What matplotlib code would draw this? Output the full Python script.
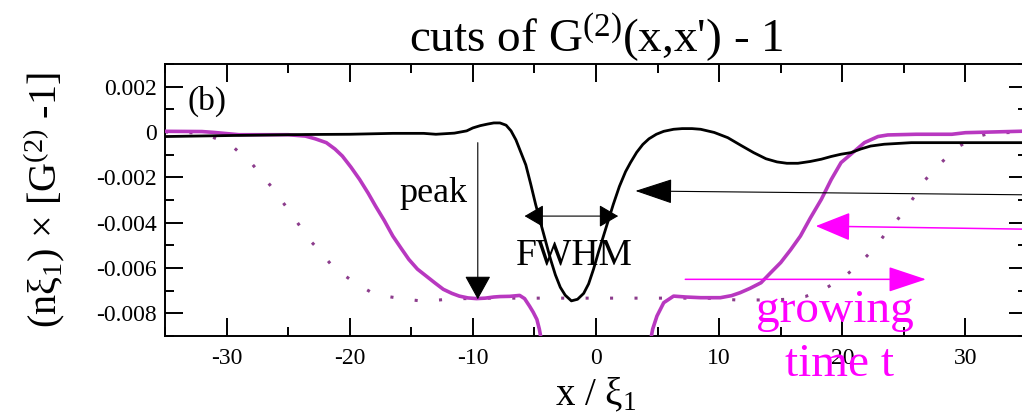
import numpy as np
import matplotlib
matplotlib.use("Agg")
import matplotlib.pyplot as plt
from matplotlib.ticker import MultipleLocator, FixedLocator, FixedFormatter

plt.rcParams['font.family'] = ['Liberation Serif', 'DejaVu Serif']
plt.rcParams['mathtext.fontset'] = 'custom'
plt.rcParams['mathtext.rm'] = 'Liberation Serif'
plt.rcParams['mathtext.it'] = 'Liberation Serif:italic'
plt.rcParams['mathtext.bf'] = 'Liberation Serif:bold'
plt.rcParams['axes.unicode_minus'] = False

# black cut (units of 1e-3)
x_black = [-35, -29, -23.6, -20, -16.5, -14, -13, -11.5, -10.5, -10, -9.4, -8.8,
           -8.3, -7.8, -7.3, -6.9, -6.5, -6.1, -5.7, -5.3, -4.9, -4.5, -4.1, -3.7,
           -3.3, -2.9, -2.5, -2.0, -1.5, -1.0, -0.6, -0.2, 0.2, 0.6, 1.0, 1.4, 1.9,
           2.4, 2.8, 3.3, 3.8, 4.3, 4.9, 5.5, 6.3, 7.0, 7.8, 8.5, 9.6, 10.7, 11.8,
           12.8, 13.8, 14.7, 15.5, 16.4, 17.4, 18.3, 19.1, 19.9, 20.7, 21.5, 22.3,
           23.4, 25.6, 28.9, 35]
y_black = [-0.20, -0.15, -0.11, -0.10, -0.06, -0.06, -0.10, -0.05, 0.05, 0.18,
           0.28, 0.35, 0.40, 0.40, 0.30, 0.05, -0.35, -0.90, -1.45, -2.30, -3.20,
           -4.00, -4.80, -5.60, -6.30, -6.85, -7.20, -7.45, -7.38, -7.12, -6.70,
           -6.05, -5.30, -4.60, -3.90, -3.20, -2.40, -1.75, -1.35, -0.90, -0.55,
           -0.30, -0.10, 0.03, 0.12, 0.15, 0.15, 0.12, -0.02, -0.25, -0.60, -0.91,
           -1.18, -1.32, -1.38, -1.38, -1.30, -1.20, -1.08, -0.98, -0.91, -0.75,
           -0.62, -0.54, -0.47, -0.47, -0.47]

# magenta cut, solid
x_mag = [-35, -32, -31, -29, -25, -23.6, -22.8, -21.9, -21.2, -20.6, -19.9, -19.2,
         -18.5, -17.9, -17.2, -16.5, -15.8, -15.2, -14.5, -13.8, -13.1, -12.4,
         -11.7, -11.1, -10.4, -9.7, -9.0, -8.3, -7.8, -7.0, -6.2, -5.8, -5.4, -5.1,
         -4.8, -4.6, -4.4,
         4.4, 4.6, 4.95, 5.5, 6.3, 7.3, 8.5, 10.1, 11.0, 11.7, 12.5, 13.4, 14.2,
         15.0, 15.8, 16.6, 17.4, 18.3, 19.1, 19.9, 20.7, 21.8, 22.9, 23.7, 26,
         28.9, 30, 35]
y_mag = [0.03, 0.02, -0.02, -0.12, -0.12, -0.18, -0.30, -0.47, -0.75, -1.06,
         -1.55, -2.09, -2.70, -3.27, -3.90, -4.59, -5.15, -5.62, -6.05, -6.35,
         -6.65, -6.94, -7.12, -7.24, -7.32, -7.35, -7.33, -7.28, -7.26, -7.25,
         -7.21, -7.35, -7.68, -7.95, -8.27, -8.70, -9.30,
         -9.30, -8.70, -8.12, -7.53, -7.24, -7.28, -7.31, -7.31, -7.22, -7.09,
         -6.90, -6.65, -6.20, -5.76, -5.20, -4.59, -3.80, -2.97, -2.10, -1.35,
         -0.98, -0.47, -0.20, -0.13, -0.10, -0.10, -0.03, 0.04]

# magenta cut, dotted (earlier time)
x_dot = [-35, -32, -30.8, -29.4, -27.9, -26.3, -25.2, -24.8, -23.3, -22.8, -21.3,
         -19.8, -18.3, -16.9, -15.4, -14.1, -12.7, -11.5, -10, -9,
         9, 11.4, 12.8, 14.2, 15.5, 17.0, 18.5, 19.9, 21.2, 22.3, 23.0, 23.6,
         24.4, 24.9, 25.5, 26.1, 26.6, 27.9, 28.1, 29.3, 30.7, 32, 35]
y_dot = [0.0, -0.05, -0.30, -0.69, -1.43, -2.45, -3.27, -3.56, -4.74, -5.03,
         -5.98, -6.57, -7.06, -7.26, -7.38, -7.46, -7.41, -7.35, -7.35, -7.33,
         -7.33, -7.41, -7.41, -7.41, -7.38, -7.26, -6.94, -6.50, -5.91, -5.30,
         -4.85, -4.41, -3.93, -3.56, -3.12, -2.65, -2.19, -1.43, -1.32, -0.69,
         -0.25, -0.05, 0.0]

xticks = [-30, -20, -10, 0, 10, 20, 30]
xtick_labels = ['-30', '-20', '-10', '0', '10', '20', '30']
yticks = [-0.008, -0.006, -0.004, -0.002, 0, 0.002]
ytick_labels = ['-0.008', '-0.006', '-0.004', '-0.002', '0', '0.002']

fig = plt.figure(figsize=(10.22, 4.16), dpi=100)
# axes runs a little past the right edge of the canvas
ax = fig.add_axes([165/1022, 80/416, 862/1022, 272/416])

magenta = '#b838c0'
ax.plot(x_dot, np.array(y_dot)*1e-3, color='#8c3c8c', lw=2.2,
        linestyle=(0, (1, 7)), zorder=2)
ax.plot(x_mag, np.array(y_mag)*1e-3, color=magenta, lw=2.6, zorder=3)
ax.plot(x_black, np.array(y_black)*1e-3, color='black', lw=2.0, zorder=4)

ax.set_xlim(-35, 35)
ax.set_ylim(-0.009, 0.003)
ax.xaxis.set_major_locator(FixedLocator(xticks))
ax.xaxis.set_major_formatter(FixedFormatter(xtick_labels))
ax.xaxis.set_minor_locator(MultipleLocator(5))
ax.yaxis.set_major_locator(FixedLocator(yticks))
ax.yaxis.set_major_formatter(FixedFormatter(ytick_labels))
ax.yaxis.set_minor_locator(MultipleLocator(0.001))
ax.tick_params(which='major', direction='in', length=13, width=1.4,
               top=True, right=True, labelsize=17, pad=6)
ax.tick_params(axis='x', which='major', pad=9)
ax.tick_params(which='minor', direction='in', length=6.5, width=1.4,
               top=True, right=True)
for s in ax.spines.values():
    s.set_linewidth(1.4)

ax.set_title("cuts of G$^{\\mathrm{(2)}}$(x,x') - 1", fontsize=34, pad=4)
ax.set_xlabel('x / ξ$_1$', fontsize=28, labelpad=5)
ax.set_ylabel('(nξ$_1$) × [G$^{\\mathrm{(2)}}$ -1]', fontsize=29)
ax.yaxis.set_label_coords(-0.112, 0.5)

ax.text(-33.2, 0.001, '(b)', fontsize=24)

# annotations
ax.annotate('', xy=(-9.6, -0.00738), xytext=(-9.6, -0.00047),
            arrowprops=dict(arrowstyle='-|>,head_length=15,head_width=8.3',
                            mutation_scale=1, color='black', lw=0.8,
                            shrinkA=0, shrinkB=0))
ax.text(-15.95, -0.0031, 'peak', fontsize=26)

ax.annotate('', xy=(-5.8, -0.00371), xytext=(1.8, -0.00371),
            arrowprops=dict(arrowstyle='<|-|>,head_length=12,head_width=7',
                            mutation_scale=1, color='black', lw=0.8,
                            shrinkA=0, shrinkB=0))
ax.text(-6.47, -0.00584, 'FWHM', fontsize=27)

ax.annotate('', xy=(3.2, -0.0026), xytext=(36.5, -0.00278),
            annotation_clip=False,
            arrowprops=dict(arrowstyle='-|>,head_length=24,head_width=8',
                            mutation_scale=1, color='black', lw=0.8,
                            shrinkA=0, shrinkB=0))

ax.annotate('', xy=(17.85, -0.00415), xytext=(36.5, -0.0043),
            annotation_clip=False,
            arrowprops=dict(arrowstyle='-|>,head_length=22,head_width=9',
                            mutation_scale=1, color='#ff00ff', lw=1.1,
                            shrinkA=0, shrinkB=0))
ax.annotate('', xy=(26.8, -0.0065), xytext=(7.25, -0.0065),
            arrowprops=dict(arrowstyle='-|>,head_length=24,head_width=8',
                            mutation_scale=1, color='#ff00ff', lw=1.1,
                            shrinkA=0, shrinkB=0))
ax.text(19.4, -0.0084, 'growing', fontsize=34, color='#ff00ff', ha='center')
ax.text(19.8, -0.01077, 'time t', fontsize=34, color='#ff00ff', ha='center',
        clip_on=False)

fig.savefig('out.png', dpi=100)
